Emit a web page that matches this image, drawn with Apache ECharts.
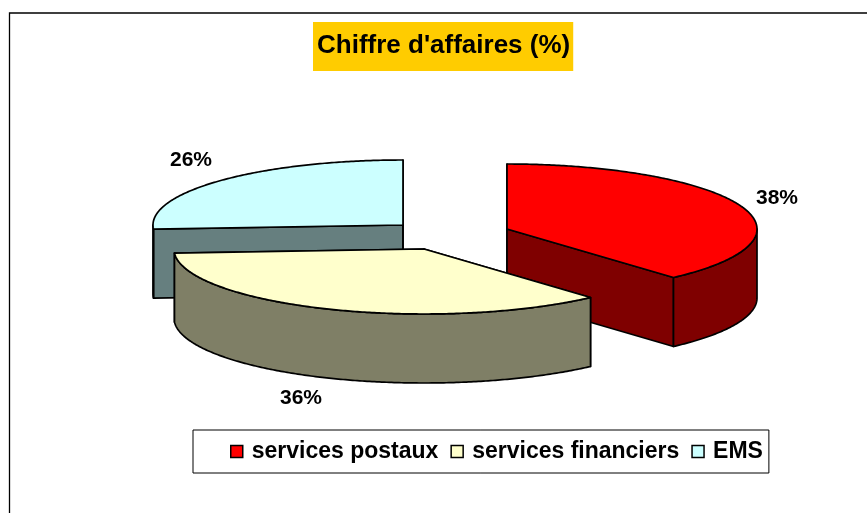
<!DOCTYPE html>
<html>
<head>
<meta charset="utf-8">
<style>html,body{margin:0;padding:0;background:#fff}#c{width:867px;height:513px}</style>
<script src="https://cdn.jsdelivr.net/npm/echarts@6/dist/echarts.min.js"></script>
</head>
<body>
<div id="c"></div>
<script>
// Data: labels show whole percents; slice widths
const categories = ['services postaux', 'services financiers', 'EMS'];
const shares = [38.4, 35.6, 26];
const titleText = "Chiffre d'affaires (%)";

// Styling and layout of the 3D exploded pie
const topColors = ['#FF0000', '#FFFFCC', '#CCFFFF'];
const sideColors = ['#7F0000', '#7F7F66', '#667F7F'];
const centers = [[507, 229], [424, 249], [403, 225]];
const labelPos = [[777, 198], [301, 398], [191, 160]];
const rx = 250, ry = 65, depth = 69;
const FONT = '"Liberation Sans", Arial, sans-serif';

const total = shares.reduce((a, b) => a + b, 0);
function startAngle(i) {
  let s = 0;
  for (let k = 0; k < i; k++) s += shares[k];
  return s / total * 2 * Math.PI;
}
function pt(c, a, dy) {
  return [c[0] + rx * Math.sin(a), c[1] - ry * Math.cos(a) + (dy || 0)];
}
function arc(c, a0, a1, dy) {
  const n = Math.max(2, Math.ceil(Math.abs(a1 - a0) / 0.01));
  const out = [];
  for (let k = 0; k <= n; k++) out.push(pt(c, a0 + (a1 - a0) * k / n, dy));
  return out;
}
const lineStyle = (fill) => ({ fill: fill, stroke: '#000', lineWidth: 1.7, lineJoin: 'round' });

function makeRender(i) {
  return function (params, api) {
    const value = api.value(0);
    const c = centers[i];
    const a0 = startAngle(i);
    const a1 = a0 + value / total * 2 * Math.PI;
    const children = [];
    const bottom = [c[0], c[1] + depth];
    // radial faces
    [a0, a1].forEach((a) => {
      const p = pt(c, a), q = pt(c, a, depth);
      children.push({ type: 'polygon', shape: { points: [c, p, q, bottom] }, style: lineStyle(sideColors[i]) });
    });
    // outer wall: only the front half of the rim can be seen
    const w0 = Math.max(a0, Math.PI / 2), w1 = Math.min(a1, 3 * Math.PI / 2);
    if (w1 > w0) {
      const upper = arc(c, w0, w1, 0), lower = arc(c, w1, w0, depth);
      children.push({ type: 'polygon', shape: { points: upper.concat(lower) }, style: lineStyle(sideColors[i]) });
    }
    // top face
    children.push({ type: 'polygon', shape: { points: [c].concat(arc(c, a0, a1, 0)) }, style: lineStyle(topColors[i]) });
    // percentage label
    children.push({
      type: 'text',
      style: {
        x: labelPos[i][0], y: labelPos[i][1], text: Math.round(value) + '%',
        fill: '#000', font: 'bold 21px ' + FONT, align: 'center', verticalAlign: 'middle'
      }
    });
    return { type: 'group', children };
  };
}

const zOrder = [2, 3, 1];
const series = categories.map((name, i) => ({
  type: 'custom',
  name,
  coordinateSystem: 'none',
  z: zOrder[i],
  silent: true,
  itemStyle: { color: topColors[i] },
  renderItem: makeRender(i),
  data: [[shares[i]]]
}));

const chart = echarts.init(document.getElementById('c'), null, { renderer: 'canvas' });
chart.setOption({
  animation: false,
  backgroundColor: '#fff',
  title: {
    text: titleText,
    left: 313, top: 22,
    padding: [11, 3, 12, 4],
    backgroundColor: '#FFCC00',
    textStyle: { color: '#000', fontFamily: FONT, fontWeight: 'bold', fontSize: 26, lineHeight: 26 }
  },
  legend: {
    data: categories,
    left: 193, top: 430,
    orient: 'horizontal',
    icon: 'rect',
    itemWidth: 12, itemHeight: 12, itemGap: 12,
    padding: [10, 6, 10, 37],
    backgroundColor: '#fff',
    borderColor: '#000', borderWidth: 1,
    selectedMode: false,
    itemStyle: { borderColor: '#000', borderWidth: 1.5 },
    textStyle: { color: '#000', fontFamily: FONT, fontWeight: 'bold', fontSize: 23, padding: [0, 0, 0, 4] }
  },
  graphic: [{
    type: 'rect',
    silent: true,
    z: -1,
    shape: { x: 9.5, y: 13, width: 900, height: 600 },
    style: { fill: '#fff', stroke: '#000', lineWidth: 1.3 }
  }],
  series
});
</script>
</body>
</html>
